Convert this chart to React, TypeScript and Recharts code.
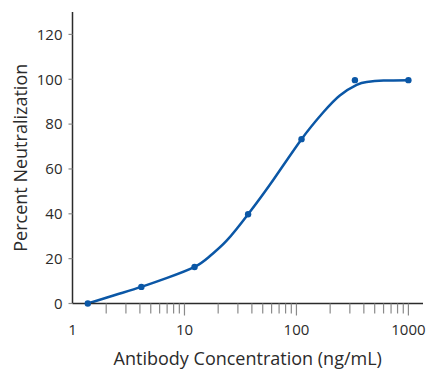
import { ComposedChart, Line, Scatter, XAxis, YAxis } from 'recharts';

// measured points (3-fold dilutions)
const concentrations = [1.37, 4.12, 12.3, 37, 111, 333, 1000];
const neutralization = [0, 7.4, 16.3, 39.8, 73.3, 99.6, 99.6];

// fitted curve
const fitConcentrations = [1.37, 2.4, 4.12, 7, 12.3, 17, 23.8, 37, 62, 111, 173, 244, 345, 424, 600, 1000];
const fitValues = [0, 3.8, 7.4, 11.4, 16.3, 21.3, 28, 39.8, 55.1, 73.3, 85.2, 92.8, 97.5, 98.8, 99.4, 99.6];

const majorTicks = [1, 10, 100, 1000];
const minorTicks = [2, 3, 4, 5, 6, 7, 8, 9, 20, 30, 40, 50, 60, 70, 80, 90, 200, 300, 400, 500, 600, 700, 800, 900];
const yTicks = [0, 20, 40, 60, 80, 100, 120];

const BLUE = '#0b57a6';
const AXIS = '#2b2b2b';
const TICK = '#8a8a8a';
const FONT = '"Open Sans", sans-serif';

const points = concentrations.map((c, i) => ({ x: c, y: neutralization[i] }));
const fit = fitConcentrations.map((c, i) => ({ x: c, y: fitValues[i] }));
const allTicks = [...majorTicks, ...minorTicks].sort((a, b) => a - b);

function XTick(props: any) {
  const { x, y, payload } = props;
  const v = payload.value;
  const major = majorTicks.includes(v);
  return (
    <g>
      {v !== 1 && <line x1={x} x2={x} y1={y} y2={y + (major ? 12 : 10)} stroke={TICK} strokeWidth={1.2} />}
      {major && (
        <text x={x} y={y + 31} textAnchor="middle" fill={AXIS} fontSize={15} fontFamily={FONT}>
          {v}
        </text>
      )}
    </g>
  );
}

export default function App() {
  return (
    <div style={{ position: 'absolute', left: 0, top: 0, background: '#fff' }}>
      <ComposedChart width={428} height={369} margin={{ top: 12, right: 5, bottom: 0, left: 0 }}>
        <XAxis
          type="number"
          dataKey="x"
          scale="log"
          domain={[1, 1350]}
          ticks={allTicks}
          interval={0}
          allowDataOverflow
          tick={<XTick />}
          tickLine={false}
          tickSize={0}
          tickMargin={0}
          axisLine={{ stroke: AXIS, strokeWidth: 1.5 }}
          height={65.5}
          label={{
            value: 'Antibody Concentration (ng/mL)',
            position: 'insideBottom',
            offset: 4,
            fill: AXIS,
            fontSize: 18,
            fontFamily: FONT,
          }}
        />
        <YAxis
          type="number"
          dataKey="y"
          domain={[0, 130]}
          ticks={yTicks}
          interval={0}
          width={72.5}
          tickSize={4}
          tickMargin={6}
          tickLine={{ stroke: TICK, strokeWidth: 1.2 }}
          axisLine={{ stroke: AXIS, strokeWidth: 1.5 }}
          tick={{ fill: AXIS, fontSize: 15, fontFamily: FONT }}
          label={{
            value: 'Percent Neutralization',
            angle: -90,
            position: 'insideLeft',
            offset: 21,
            style: { textAnchor: 'middle' },
            fill: AXIS,
            fontSize: 18,
            fontFamily: FONT,
          }}
        />
        <Line
          data={fit}
          dataKey="y"
          type="natural"
          stroke={BLUE}
          strokeWidth={2.5}
          dot={false}
          isAnimationActive={false}
        />
        <Scatter data={points} dataKey="y" fill={BLUE} shape={(p: any) => <circle cx={p.cx} cy={p.cy} r={3.2} fill={BLUE} />} isAnimationActive={false} />
      </ComposedChart>
    </div>
  );
}
